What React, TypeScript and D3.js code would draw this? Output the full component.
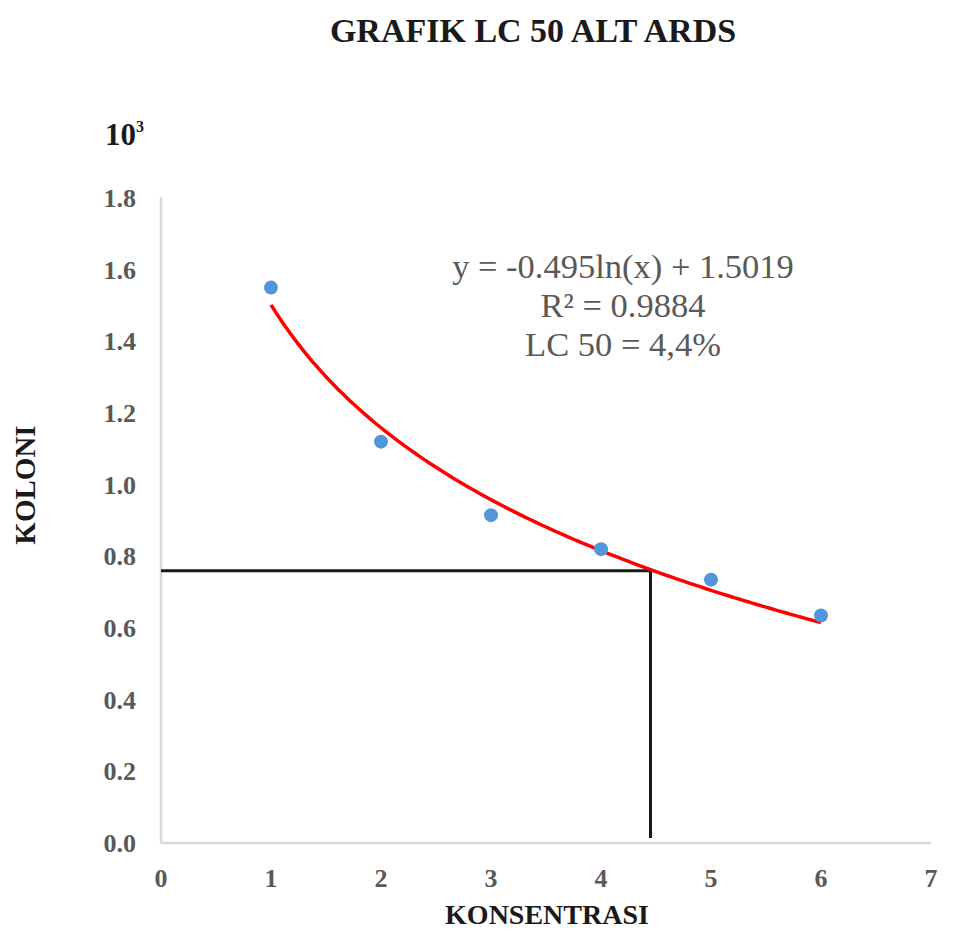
import React from "react";
import * as d3 from "d3";

const xValues = [1, 2, 3, 4, 5, 6];
const yValues = [1.55, 1.12, 0.915, 0.82, 0.735, 0.635];
const xTicks = [0, 1, 2, 3, 4, 5, 6, 7];
const yTicks = [0, 0.2, 0.4, 0.6, 0.8, 1.0, 1.2, 1.4, 1.6, 1.8];
const trendA = -0.495;
const trendB = 1.5019;
const lc50X = 4.45;
const lc50Y = 0.76;
const titleText = "GRAFIK LC 50 ALT ARDS";
const equationLines = ["y = -0.495ln(x) + 1.5019", "R² = 0.9884", "LC 50 = 4,4%"];

const W = 954;
const H = 932;
const serif = "Liberation Serif, DejaVu Serif, Times New Roman, serif";

export default function App() {
  const x = d3.scaleLinear().domain([0, 7]).range([161, 931]);
  const y = d3.scaleLinear().domain([0, 1.8]).range([843, 198]);

  const trendPts = d3.range(1, 6.0001, 0.05).map((v) => [v, trendA * Math.log(v) + trendB] as [number, number]);
  const line = d3
    .line<[number, number]>()
    .x((d) => x(d[0]))
    .y((d) => y(d[1]))
    .curve(d3.curveBasis);

  const f = { fontFamily: serif };

  return (
    <svg width={W} height={H} style={{ position: "absolute", left: 0, top: 0, background: "#fff" }}>
      <rect x={0} y={0} width={W} height={H} fill="#fff" />
      <text x={533} y={42} textAnchor="middle" style={f} fontWeight="bold" fontSize={34} fill="#1a1a1a">
        {titleText}
      </text>
      <text x={105} y={145} style={f} fontWeight="bold" fontSize={31} fill="#1a1a1a">
        10
        <tspan dy={-13} fontSize={16}>3</tspan>
      </text>

      <line x1={x(0)} x2={x(0)} y1={197} y2={y(0)} stroke="#d9d9d9" strokeWidth={2.5} />
      <line x1={x(0)} x2={x(7)} y1={y(0)} y2={y(0)} stroke="#d9d9d9" strokeWidth={2.5} />

      {yTicks.map((v) => (
        <text key={v} x={136} y={y(v) + 9} textAnchor="end" style={f} fontWeight="bold" fontSize={26} fill="#595959">
          {v.toFixed(1)}
        </text>
      ))}
      {xTicks.map((v) => (
        <text key={v} x={x(v)} y={887} textAnchor="middle" style={f} fontWeight="bold" fontSize={26} fill="#595959">
          {v}
        </text>
      ))}

      <text x={547} y={924} textAnchor="middle" style={f} fontWeight="bold" fontSize={28} fill="#1a1a1a">
        KONSENTRASI
      </text>
      <text transform="translate(35, 485) rotate(-90)" textAnchor="middle" style={f} fontWeight="bold" fontSize={29} fill="#1a1a1a">
        KOLONI
      </text>

      <line x1={x(0)} x2={x(lc50X)} y1={y(lc50Y)} y2={y(lc50Y)} stroke="#1a1a1a" strokeWidth={3} />
      <line x1={x(lc50X)} x2={x(lc50X)} y1={y(lc50Y)} y2={y(0) - 5} stroke="#1a1a1a" strokeWidth={3} />

      <path d={line(trendPts) || ""} fill="none" stroke="#ff0000" strokeWidth={3.5} />

      {xValues.map((v, i) => (
        <circle key={v} cx={x(v)} cy={y(yValues[i])} r={7} fill="#5096d8" />
      ))}

      {equationLines.map((s, i) => (
        <text key={i} x={623} y={278 + i * 39} textAnchor="middle" style={f} fontSize={34.5} fill="#595959">
          {s}
        </text>
      ))}
    </svg>
  );
}
